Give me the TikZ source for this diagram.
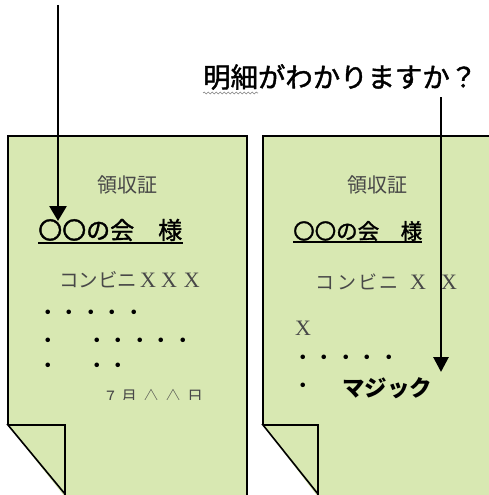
\documentclass[tikz,border=0pt]{standalone}
\usepackage{fontspec}
\newfontfamily\jp{Noto Sans CJK JP}
\newfontfamily\jpmid[FakeBold=1.5]{Noto Sans CJK JP}
\newfontfamily\ser{Liberation Serif}
\usetikzlibrary{arrows.meta,decorations.pathmorphing}
\definecolor{paper}{RGB}{216,232,178}
\definecolor{txtgray}{RGB}{72,72,72}
\begin{document}
\begin{tikzpicture}[x=1pt,y=-1pt,
  pageline/.style={line width=1.6pt,black,line join=miter},
  txt/.style={inner sep=0pt,anchor=west},
  jpfont/.style={font=\jp\fontsize{#1}{#1}\selectfont},
  jpmidfont/.style={font=\jpmid\fontsize{#1}{#1}\selectfont},
  serfont/.style={font=\ser\fontsize{#1}{#1}\selectfont},
  arr/.style={line width=2.8pt,-{Triangle[width=#1,length=15pt]}}]
\useasboundingbox (0,0) rectangle (489,495);

% left page
\fill[paper] (8,136) -- (247,136) -- (247,497) -- (65,497) -- (8,425) -- cycle;
\draw[pageline] (8,425) -- (8,136) -- (247,136) -- (247,497);
\filldraw[pageline,fill=paper] (8,425) -- (65,425) -- (65,497) -- (65,494) -- cycle;

% right page
\fill[paper] (263,136) -- (495,136) -- (495,497) -- (318,497) -- (263,425) -- cycle;
\draw[pageline] (263,425) -- (263,136) -- (495,136);
\filldraw[pageline,fill=paper] (263,425) -- (318,425) -- (318,497) -- (318,494) -- cycle;

% question
\node[txt,jpmidfont=27.4] (q) at (203,77) {明細がわかりますか？};
\draw[gray,line width=0.6pt,decorate,decoration={snake,amplitude=0.9pt,segment length=4pt}]
  (203,93) -- (258,93);

% left page texts
\node[jpfont=20,txtgray,inner sep=0pt] (l1) at (127.5,185) {領収証};
\node[txt,jpmidfont=24] (l2) at (38,230) {〇〇の会　様};
\draw[line width=2pt] (38,243) -- (183,243);
\node[txt,jpfont=19.5,txtgray] (l3) at (59,280) {コンビニ};
\node[txt,txtgray,serfont=22] (l3x) at (140,280) {X\hspace{5pt}X\hspace{7pt}X};
\node[txt,jpfont=21.5] (l4) at (37.25,315) {・・・・・};
\node[txt,jpfont=21.5] (l5a) at (37.25,343) {・};
\node[txt,jpfont=21.5] (l5b) at (86.25,343) {・・・・・};
\node[txt,jpfont=21.5] (l6a) at (37.25,368) {・};
\node[txt,jpfont=21.5] (l6b) at (86.25,368) {・・};
\begin{scope}
  \clip (8,380) rectangle (247,399.5);
  \node[txt,jpfont=16,txtgray] (l7) at (106,397)
    {7\hspace{6pt}月\hspace{6pt}△\hspace{6pt}△\hspace{6pt}日};
\end{scope}

% right page texts
\node[jpfont=20,txtgray,inner sep=0pt] (r1) at (377.5,185) {領収証};
\node[txt,jpmidfont=21.5] (r2) at (293,231) {〇〇の会　様};
\draw[line width=1.5pt] (293,242) -- (422,242);
\node[txt,jpfont=19,txtgray] (r3) at (315.5,282)
  {コ\hspace{2.3pt}ン\hspace{2.3pt}ビ\hspace{2.3pt}ニ};
\node[txt,txtgray,serfont=22] (r3x) at (410,282) {X\hspace{15pt}X};
\node[txt,txtgray,serfont=22] (r4) at (295,328) {X};
\node[txt,jpfont=21.5] (r5) at (292,360) {・・・・・};
\node[txt,jpfont=21.5] (r6a) at (292,388) {・};
\node[txt,jpfont=22.5] (r6b) at (342,388) {\bfseries マジック};

% arrows
\coordinate (a1s) at (58,5);
\coordinate (a1e) at (58,221);
\draw[arr=17pt] (a1s) -- (a1e);
\coordinate (a2s) at (441,97);
\coordinate (a2e) at (441,372);
\draw[arr=15pt] (a2s) -- (a2e);
\end{tikzpicture}
\end{document}
